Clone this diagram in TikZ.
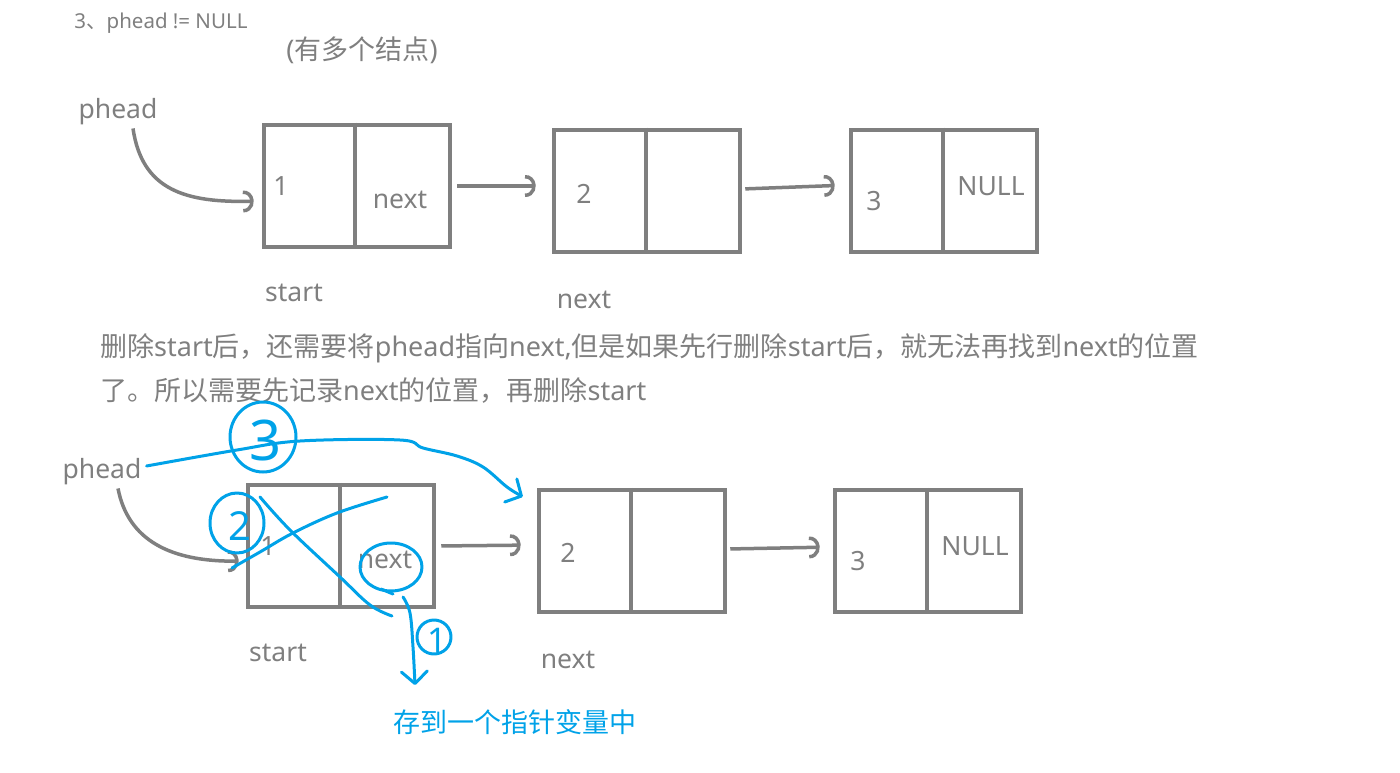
\documentclass[tikz,border=0pt]{standalone}
\usepackage{fontspec}
\setmainfont{Noto Sans}
\newfontfamily\cjk{Noto Sans CJK SC}
\usetikzlibrary{arrows.meta}
\definecolor{ink}{RGB}{127,127,127}
\definecolor{pen}{RGB}{0,162,232}
\begin{document}
\begin{tikzpicture}[x=1pt,y=-1pt,
 box/.style={draw=ink, line width=4.5pt, minimum width=186pt, minimum height=122pt, inner sep=0pt},
 divider/.style={draw=ink, line width=4pt},
 lbl/.style={text=ink, font=\fontsize{26.5}{30}\selectfont, inner sep=0pt},
 para/.style={text=ink, font=\fontsize{27}{30}\selectfont, inner sep=0pt, anchor=west},
 conn/.style={draw=ink, line width=3.5pt, -{Arc Barb[arc=190,length=10pt,width=22pt]}},
 ann/.style={draw=pen, line width=3pt, line cap=round, line join=round},
 annarrow/.style={ann, -{Straight Barb[length=12pt,width=26pt,line cap=round,line join=round]}},
 digit/.style={text=pen, inner sep=0pt},
]
\useasboundingbox (0,0) rectangle (1400,773);

% titles
\node[text=ink, font=\fontsize{20.5}{24}\selectfont, inner sep=0pt] (title) at (161,23) {3{\cjk 、}phead != NULL};
\node[text=ink, font=\fontsize{27}{30}\selectfont, inner sep=0pt] (sub) at (362,50) {({\cjk 有多个结点})};

% ---------- top list ----------
\node[box] (b1) at (357,186) {};
\node[box] (b2) at (647,191) {};
\node[box] (b3) at (944,191) {};
\draw[divider] ([xshift=-2pt]b1.north) -- ([xshift=-2pt]b1.south);
\draw[divider] ([xshift=-1pt]b2.north) -- ([xshift=-1pt]b2.south);
\draw[divider] ([xshift=-1pt]b3.north) -- ([xshift=-1pt]b3.south);

\node[lbl] (b1v) at (281,186) {1};
\node[lbl] (b1n) at (400,200) {next};
\node[lbl] (b2v) at (584,194) {2};
\node[lbl] (b3v) at (874,201) {3};
\node[lbl] (b3n) at (991,186) {NULL};
\node[lbl] (start1) at (294,293) {start};
\node[lbl] (next1) at (584,300) {next};
\node[lbl] (phead1) at (118,112) {phead};

\draw[conn, shorten <=5pt, shorten >=16pt] (b1.east) -- ([yshift=5pt]b2.west);
\draw[conn, shorten <=3pt, shorten >=14pt] ([yshift=2pt]b2.east) -- ([yshift=6pt]b3.west);
\draw[conn, shorten >=8pt] ([xshift=15pt,yshift=-3pt]phead1.south) .. controls (142,190) and (185,203) .. ([yshift=-15pt]b1.west);

% paragraph
\node[para] (p1) at (100,348) {{\cjk 删除}start{\cjk 后，还需要将}phead{\cjk 指向}next,{\cjk 但是如果先行删除}start{\cjk 后，就无法再找到}next{\cjk 的位置}};
\node[para] (p2) at (100,391) {{\cjk 了。所以需要先记录}next{\cjk 的位置，再删除}start};

% ---------- bottom list ----------
\node[box] (c1) at (341,546) {};
\node[box] (c2) at (632,551) {};
\node[box] (c3) at (928,551) {};
\draw[divider] ([xshift=-1pt]c1.north) -- ([xshift=-1pt]c1.south);
\draw[divider] ([xshift=-1pt]c2.north) -- ([xshift=-1pt]c2.south);
\draw[divider] ([xshift=-1pt]c3.north) -- ([xshift=-1pt]c3.south);

\node[lbl] (c1v) at (268,546) {1};
\node[lbl] (c1n) at (385,560) {next};
\node[lbl] (c2v) at (568,553) {2};
\node[lbl] (c3v) at (858,561) {3};
\node[lbl] (c3n) at (975,546) {NULL};
\node[lbl] (start2) at (278,653) {start};
\node[lbl] (next2) at (568,660) {next};
\node[lbl] (phead2) at (102,472) {phead};

\draw[conn, shorten <=5pt, shorten >=16pt] (c1.east) -- ([yshift=6pt]c2.west);
\draw[conn, shorten <=3pt, shorten >=13pt] ([yshift=2pt]c2.east) -- ([yshift=4pt]c3.west);
\draw[conn, shorten >=7pt] ([xshift=16pt,yshift=-3pt]phead2.south) .. controls (128,540) and (170,562) .. ([yshift=-15pt]c1.west);

% ---------- blue annotations ----------
% step 3: phead -> next
\draw[ann] (263,437) ellipse [x radius=33pt, y radius=35pt];
\node[digit, font=\fontsize{56}{60}\selectfont] (d3) at (266,441) {3};
\draw[annarrow] plot[smooth, tension=0.6] coordinates {([shift={(5pt,6pt)}]phead2.east) (237,450) (300,441) (400,440) (423,448) (457,456) (483,467) (507,487) ([shift={(-14pt,-9pt)}]c2.north west)};

% step 2: delete start (cross)
\draw[ann] (237,523) ellipse [x radius=27pt, y radius=30pt];
\node[digit, font=\fontsize{40}{44}\selectfont] (d2) at (240,526) {2};
\draw[ann] plot[smooth, tension=0.6] coordinates {(232,568) (260,552) (293,533) (337,513) (387,497)};
\draw[ann] plot[smooth, tension=0.6] coordinates {(260,497) (290,530) (340,577) (370,605) (392,616)};

% step 1: save next
\draw[ann] (391,567) ellipse [x radius=31pt, y radius=24pt];
\draw[ann] (381,589) -- (393,594);
\coordinate (save) at (415,685);
\draw[annarrow] plot[smooth, tension=0.6] coordinates {(403,597) (410,613) (413,647) (save)};
\draw[ann] (434,637) ellipse [x radius=17pt, y radius=17pt];
\node[digit, font=\fontsize{34}{38}\selectfont] (d1) at (437,640) {1};

\node[text=pen, font=\cjk\fontsize{27}{30}\selectfont, inner sep=0pt] (note) at (515,722) {存到一个指针变量中};
\end{tikzpicture}
\end{document}
